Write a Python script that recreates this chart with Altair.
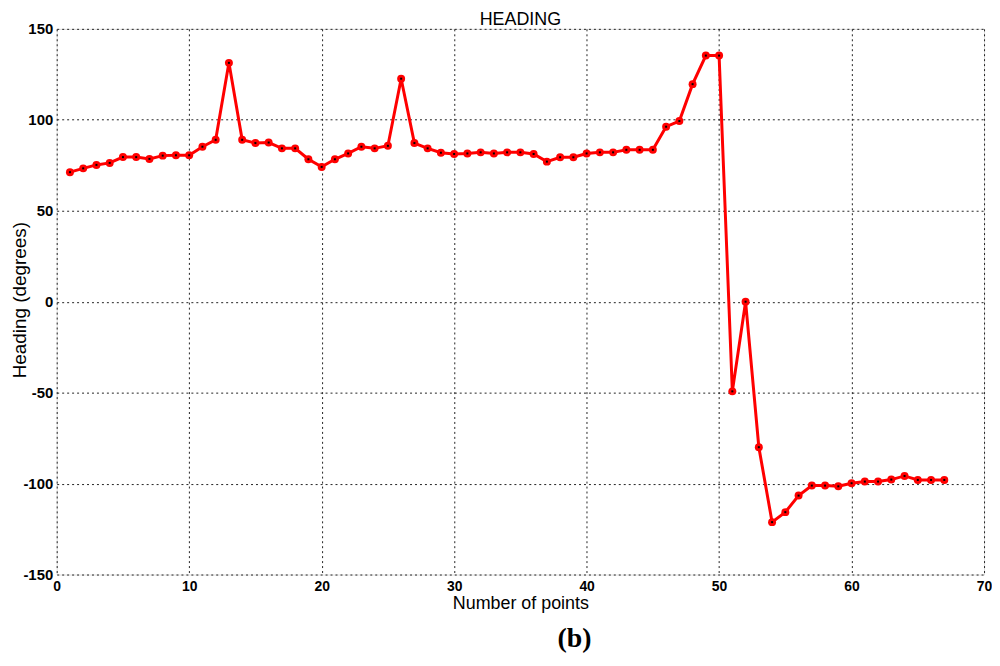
import altair as alt
import pandas as pd

points = list(range(1, 68))
heading = [
    71.2, 73.3, 75.2, 76.3, 79.5, 79.5, 78.5, 80.3, 80.5, 80.5,
    85.2, 89.0, 131.3, 89.0, 87.2, 87.5, 84.3, 84.3, 78.3, 74.1,
    78.3, 81.5, 85.2, 84.3, 85.7, 122.6, 87.2, 84.3, 81.9, 81.2,
    81.5, 82.1, 81.5, 82.1, 82.1, 81.2, 77.0, 79.4, 79.4, 81.5,
    82.1, 82.1, 83.5, 83.5, 83.5, 96.2, 99.3, 119.6, 135.3, 135.3,
    -49.3, 0.0, -80.0, -121.2, -115.7, -106.6, -101.1, -101.1, -101.5, -99.8,
    -98.9, -98.9, -97.8, -95.8, -98.0, -98.0, -98.0,
]
x_ticks = [0, 10, 20, 30, 40, 50, 60, 70]
y_ticks = [-150, -100, -50, 0, 50, 100, 150]
panel_label = ["(b)"]

df = pd.DataFrame({"n": points, "h": heading})

W, H = 933, 549
SANS = "Liberation Sans"

xenc = alt.X(
    "n:Q",
    scale=alt.Scale(domain=[0, 70], nice=False, zero=False),
    axis=alt.Axis(
        values=x_ticks, title="Number of points", grid=True,
        gridColor="#222", gridDash=[2, 3], gridWidth=1,
        domain=False, ticks=False,
        labelExpr="'' + datum.value",
        labelFont=SANS, labelFontSize=14, labelFontWeight="bold", labelColor="black",
        labelPadding=5, labelFlush=False,
        titleFont=SANS, titleFontSize=18, titleFontWeight="normal", titleColor="black",
        titleY=29, titleBaseline="middle",
    ),
)
yenc = alt.Y(
    "h:Q",
    scale=alt.Scale(domain=[-150, 150], nice=False, zero=False),
    axis=alt.Axis(
        values=y_ticks, title="Heading (degrees)", grid=True,
        gridColor="#222", gridDash=[2, 3], gridWidth=1,
        domain=False, ticks=False,
        labelExpr="'' + datum.value",
        labelFont=SANS, labelFontSize=15, labelFontWeight="bold", labelColor="black",
        labelPadding=4, labelFlush=False,
        titleFont=SANS, titleFontSize=19, titleFontWeight="normal", titleColor="black",
        titleX=-37, titleY=H / 2 - 2, titleAngle=-90, titleAlign="center", titleBaseline="middle",
    ),
)

base = alt.Chart(df)
line = base.mark_line(color="#ff0000", strokeWidth=3).encode(x=xenc, y=yenc)
dots = base.mark_point(filled=True, color="#ff0000", size=64, opacity=1, shape="circle").encode(x="n:Q", y="h:Q")
centers = base.mark_point(filled=True, color="black", size=4, opacity=1, shape="square").encode(x="n:Q", y="h:Q")

label = alt.Chart(pd.DataFrame({"t": panel_label})).mark_text(
    font="Liberation Serif", fontSize=28, fontWeight="bold", color="black",
    align="center", baseline="alphabetic",
).encode(text="t:N", x=alt.value(521), y=alt.value(622))

chart = alt.layer(line, dots, centers, label).properties(
    width=W, height=H,
    title=alt.TitleParams(
        text="HEADING", font=SANS, fontSize=18, fontWeight="normal", color="black",
        anchor="middle", offset=3, dy=10,
    ),
    autosize=alt.AutoSizeParams(type="none"),
    padding={"left": 49, "top": 19, "right": 8, "bottom": 80},
).configure_view(stroke="black", strokeWidth=1).configure(background="white")

chart.save("out.html", embed_options={"renderer": "svg", "actions": False})
